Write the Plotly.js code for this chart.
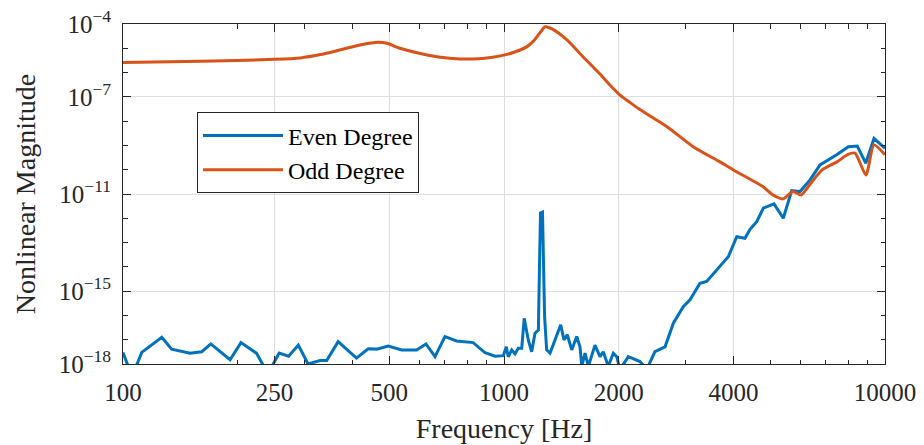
<!DOCTYPE html>
<html>
<head>
<meta charset="utf-8">
<script src="https://cdn.plot.ly/plotly-3.0.1.min.js"></script>
<style>html,body{margin:0;padding:0;background:#fff;}#chart{width:924px;height:445px;}</style>
</head>
<body>
<div id="chart"></div>
<script>
// Frequency [Hz] and magnitude of the odd-degree nonlinear component
const oddFreq = [100, 160, 250, 292, 330, 356, 419, 467, 493, 533, 628, 721, 829, 935, 1018, 1102, 1149, 1191, 1221, 1259, 1281, 1344, 1463, 1612, 1786, 1897, 2016, 2141, 2274, 2678, 3135, 3690, 4000, 4786, 5082, 5399, 5736, 6024, 6433, 6836, 7480, 7998, 8346, 8913, 9354, 10000];
const oddMag = [2.6e-6, 2.9e-6, 3.5e-6, 4.0e-6, 5.5e-6, 7.2e-6, 1.37e-5, 1.77e-5, 1.6e-5, 1.0e-5, 5.3e-6, 3.9e-6, 3.6e-6, 4.3e-6, 5.6e-6, 8.5e-6, 1.17e-5, 1.87e-5, 3.0e-5, 5.7e-5, 7.7e-5, 6.0e-5, 2.2e-5, 4.5e-6, 8.7e-7, 3.1e-7, 1.19e-7, 5.9e-8, 3.0e-8, 5.9e-9, 8.9e-10, 2.1e-10, 9.8e-11, 2.0e-11, 9.1e-12, 6.3e-12, 1.26e-11, 9.1e-12, 3.2e-11, 9.8e-11, 2.1e-10, 4.3e-10, 4.8e-10, 6.0e-11, 1.05e-9, 4.1e-10];

// Frequency [Hz] and magnitude of the even-degree nonlinear component
const evenFreq = [100, 105.6, 112, 126.4, 134.2, 150, 161, 170, 191, 204, 224, 240, 257, 272, 288.5, 306, 329, 342.5, 367, 410, 440, 463, 497, 539, 590, 624, 659, 700, 751, 830, 892, 947, 996, 1014, 1026, 1048, 1069, 1090, 1113, 1130, 1158, 1182, 1206, 1231, 1240, 1247, 1262, 1270, 1278, 1294, 1321, 1361, 1409, 1437, 1466, 1506, 1552, 1583, 1600, 1632, 1665, 1733, 1786, 1822, 1878, 1936, 1976, 2016, 2120, 2275, 2369, 2490, 2646, 2783, 2955, 3077, 3269, 3404, 3651, 3879, 4082, 4291, 4423, 4606, 4793, 5113, 5408, 5690, 5983, 6357, 6752, 7467, 8012, 8458, 8899, 9357, 10000];
const evenMag = [3.0e-18, 3.0e-19, 3.0e-18, 1.26e-17, 4.1e-18, 2.8e-18, 3.2e-18, 6.7e-18, 1.5e-18, 7.6e-18, 2.8e-18, 4.0e-19, 2.8e-18, 2.1e-18, 6.0e-18, 1.0e-18, 1.4e-18, 1.4e-18, 8.3e-18, 1.74e-18, 4.2e-18, 4.1e-18, 5.5e-18, 3.8e-18, 3.8e-18, 6.7e-18, 2.0e-18, 1.34e-17, 8.9e-18, 7.6e-18, 2.9e-18, 2.1e-18, 2.2e-18, 5.1e-18, 2.0e-18, 3.8e-18, 2.6e-18, 4.4e-18, 4.4e-18, 7.6e-17, 9.8e-18, 3.2e-18, 1.85e-17, 2.5e-17, 1.9e-14, 1.66e-12, 1.8e-12, 1.9e-14, 8.9e-17, 3.8e-18, 2.8e-18, 9.8e-18, 4.1e-17, 9.8e-18, 1.6e-17, 3.8e-18, 1.35e-17, 5.1e-18, 8.0e-19, 2.8e-18, 8.0e-19, 6.0e-18, 2.0e-18, 3.2e-18, 8.0e-19, 2.8e-18, 2.0e-18, 6.0e-19, 2.0e-18, 1.26e-18, 6.0e-19, 3.2e-18, 5.1e-18, 4.8e-17, 2.3e-16, 4.4e-16, 2.1e-15, 2.5e-15, 8.7e-15, 2.6e-14, 1.74e-13, 1.5e-13, 3.5e-13, 7.3e-13, 2.6e-12, 3.9e-12, 1.0e-12, 1.38e-11, 1.26e-11, 3.8e-11, 1.58e-10, 4.1e-10, 8.9e-10, 9.5e-10, 1.86e-10, 1.95e-9, 7.6e-10];

const seriesNames = ['Even Degree', 'Odd Degree'];
const xTickVals = [100, 250, 500, 1000, 2000, 4000, 10000];
const xTickText = ['100', '250', '500', '1000', '2000', '4000', '10000'];
const xMinorVals = [200, 300, 400, 600, 700, 800, 900, 3000, 5000, 6000, 7000, 8000, 9000];
const yTickVals = [1e-18, 1e-15, 1e-11, 1e-7, 1e-4];
const yTickText = ['10<sup>−18</sup>', '10<sup>−15</sup>', '10<sup>−11</sup>', '10<sup>−7</sup>', '10<sup>−4</sup>'];
const yMinorVals = [1e-17, 1e-16, 1e-14, 1e-13, 1e-12, 1e-10, 1e-9, 1e-8, 1e-6, 1e-5];

const FONT = 'Liberation Serif';
const AX = '#262626';

const traces = [
  {x: evenFreq, y: evenMag, name: seriesNames[0], type: 'scatter', mode: 'lines',
   line: {color: '#0072BD', width: 3}},
  {x: oddFreq, y: oddMag, name: seriesNames[1], type: 'scatter', mode: 'lines',
   line: {color: '#D95319', width: 3, shape: 'spline', smoothing: 0.6}}
];

const layout = {
  width: 924, height: 445,
  margin: {l: 123, r: 39, t: 24, b: 81, pad: 0},
  paper_bgcolor: '#fff', plot_bgcolor: '#fff',
  font: {family: FONT, color: AX, size: 25},
  showlegend: true,
  legend: {x: 0.0971, y: 0.740, xanchor: 'left', yanchor: 'top',
           bgcolor: '#fff', bordercolor: AX, borderwidth: 1,
           font: {family: FONT, size: 24, color: '#000'}, itemwidth: 80, tracegroupgap: 0},
  xaxis: {
    type: 'log', range: [2, 4],
    tickmode: 'array', tickvals: xTickVals, ticktext: xTickText,
    ticks: 'inside', ticklen: 8, tickwidth: 1, tickcolor: AX,
    showline: true, linecolor: AX, linewidth: 1, mirror: 'allticks',
    showgrid: true, gridcolor: '#dedede', gridwidth: 1, zeroline: false,
    ticklabelstandoff: 6,
    tickfont: {family: FONT, size: 25, color: AX},
    minor: {tickmode: 'array', tickvals: xMinorVals, ticks: 'inside', ticklen: 4.5, tickcolor: AX, showgrid: false},
    title: {text: 'Frequency [Hz]', font: {family: FONT, size: 28, color: AX}, standoff: 13}
  },
  yaxis: {
    type: 'log', range: [-18, -4],
    tickmode: 'array', tickvals: yTickVals, ticktext: yTickText,
    ticks: 'inside', ticklen: 8, tickwidth: 1, tickcolor: AX,
    showline: true, linecolor: AX, linewidth: 1, mirror: 'allticks',
    showgrid: true, gridcolor: '#dedede', gridwidth: 1, zeroline: false,
    ticklabelstandoff: 6,
    tickfont: {family: FONT, size: 25, color: AX},
    minor: {tickmode: 'array', tickvals: yMinorVals, ticks: 'inside', ticklen: 4.5, tickcolor: AX, showgrid: false},
    title: {text: 'Nonlinear Magnitude', font: {family: FONT, size: 28, color: AX}, standoff: 14}
  }
};

Plotly.newPlot('chart', traces, layout, {staticPlot: true, displayModeBar: false});
</script>
</body>
</html>
